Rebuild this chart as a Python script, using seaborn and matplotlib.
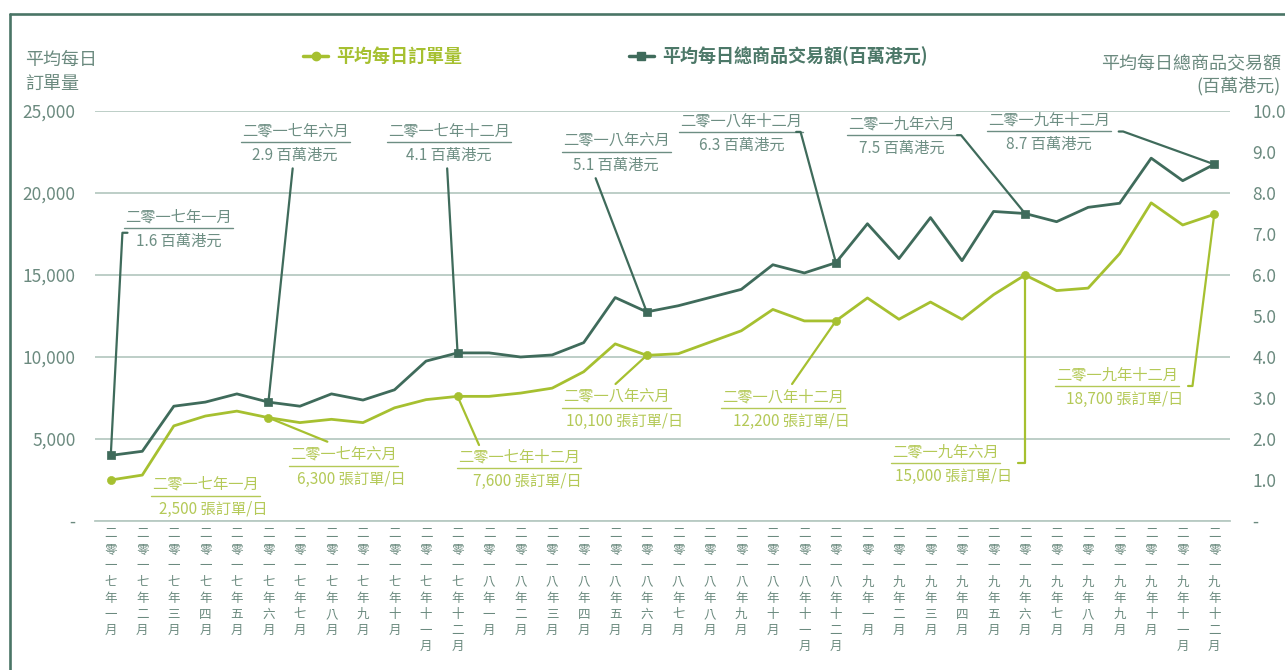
import numpy as np
import pandas as pd
import matplotlib
matplotlib.use("Agg")
import matplotlib.pyplot as plt
from matplotlib.lines import Line2D
import seaborn as sns

# === data ===
years = ["一七", "一八", "一九"]
month_names = ["一", "二", "三", "四", "五", "六", "七", "八", "九", "十", "十一", "十二"]
months = [f"二零{y}年{m}月" for y in years for m in month_names]

# average daily orders (left axis)
orders = [2500, 2800, 5800, 6400, 6700, 6300, 6000, 6200, 6000, 6900, 7400, 7600,
          7600, 7800, 8100, 9100, 10800, 10100, 10200, 10900, 11600, 12900, 12200, 12200,
          13600, 12300, 13350, 12300, 13800, 15000, 14050, 14200, 16300, 19400, 18050, 18700]
# average daily GMV, HK$ million (right axis)
gmv = [1.6, 1.7, 2.8, 2.9, 3.1, 2.9, 2.8, 3.1, 2.95, 3.2, 3.9, 4.1,
       4.1, 4.0, 4.05, 4.35, 5.45, 5.1, 5.25, 5.45, 5.65, 6.25, 6.05, 6.3,
       7.25, 6.4, 7.4, 6.35, 7.55, 7.5, 7.3, 7.65, 7.75, 8.85, 8.3, 8.7]
highlight = [0, 5, 11, 17, 23, 29, 35]

left_ticks = [0, 5000, 10000, 15000, 20000, 25000]
left_labels = ["-", "5,000", "10,000", "15,000", "20,000", "25,000"]
right_ticks = list(range(0, 11))
right_labels = ["-"] + [f"{v:.1f}" for v in range(1, 11)]

df = pd.DataFrame({"idx": np.arange(len(months)), "orders": orders, "gmv": gmv})
hl = df.iloc[highlight]

LIGHT = "#a6c030"
LIGHT_TXT = "#b4c957"
DARK = "#3f6b5b"
DARK_TXT = "#6d8e83"
GRID = "#b8cac3"
TICK = "#6b8a7f"
FRAME = "#4a7566"

sns.set_style("white")
plt.rcParams["font.family"] = ["Noto Sans CJK TC", "DejaVu Sans"]

W, H = 1285, 670
fig = plt.figure(figsize=(W / 100, H / 100), dpi=100)
ax = fig.add_axes([95 / W, 1 - 521 / H, (1230 - 95) / W, (521 - 111) / H])
ax2 = ax.twinx()

# === lines ===
sns.lineplot(data=df, x="idx", y="orders", ax=ax, color=LIGHT, linewidth=2.0, legend=False)
sns.scatterplot(data=hl, x="idx", y="orders", ax=ax, color=LIGHT, edgecolor=LIGHT,
                s=34, marker="o", zorder=4, legend=False)
sns.lineplot(data=df, x="idx", y="gmv", ax=ax2, color=DARK, linewidth=2.0, legend=False)
sns.scatterplot(data=hl, x="idx", y="gmv", ax=ax2, color=DARK, edgecolor=DARK,
                s=40, marker="s", zorder=4, legend=False)

ax.set_xlim(-0.5, len(months) - 0.5)
ax.set_ylim(0, 25000)
ax2.set_ylim(0, 10)
for a in (ax, ax2):
    a.set_xlabel("")
    a.set_ylabel("")
    for s in a.spines.values():
        s.set_visible(False)
ax.spines["bottom"].set_visible(True)
ax.spines["bottom"].set_color(GRID)
ax.spines["bottom"].set_linewidth(1.3)

ax.set_yticks(left_ticks)
ax.set_yticklabels(left_labels)
ax.tick_params(axis="y", length=0, pad=14, labelsize=12.5, labelcolor=TICK)
ax2.set_yticks(right_ticks)
ax2.set_yticklabels(right_labels)
ax2.tick_params(axis="y", length=0, pad=16, labelsize=12.5, labelcolor=TICK)
ax.grid(axis="y", color=GRID, linewidth=1.3)
ax.set_axisbelow(True)

# x ticks at category boundaries, labels written vertically
ax.set_xticks(np.arange(len(months)))
ax.set_xticklabels([""] * len(months))
ax.tick_params(axis="x", which="major", length=0)
ax.set_xticks(np.arange(len(months) + 1) - 0.5, minor=True)
ax.tick_params(axis="x", which="minor", length=4.5, width=1.3, color=GRID, direction="out")
for i, lab in enumerate(months):
    for j, ch in enumerate(lab):
        ax.annotate(ch, xy=(i, 0), xycoords=("data", "axes fraction"),
                    xytext=(0, -9 - j * 11.66), textcoords="offset points",
                    ha="center", va="center", fontsize=9, color=TICK, annotation_clip=False)

# === callouts ===
renderer = fig.canvas.get_renderer()


def callout(a, cx, uy, date, value, color, txt_color, leader, dx=0):
    t = a.annotate(date, xy=(cx, uy), xytext=(0, 2), textcoords="offset points",
                   ha="center", va="bottom", fontsize=11, color=txt_color)
    a.annotate(value, xy=(cx, uy), xytext=(dx, -3.5), textcoords="offset points",
               ha="center", va="top", fontsize=11, color=txt_color)
    bb = t.get_window_extent(renderer)
    inv = a.transData.inverted()
    x0 = inv.transform((bb.x0 - 1, 0))[0]
    x1 = inv.transform((bb.x1 + 1, 0))[0]
    a.plot([x0, x1], [uy, uy], color=txt_color, linewidth=1.0)
    if leader:
        xs, ys = zip(*leader)
        a.plot(xs, ys, color=color, linewidth=1.6, zorder=3)


gmv_spots = {
    0: (2.16, 7.15, [(0, gmv[0]), (0.37, 7.03), (0.53, 7.03)]),
    5: (5.85, 9.24, [(5, gmv[5]), (5.77, 8.60)]),
    11: (10.73, 9.24, [(11, gmv[11]), (10.67, 8.60)]),
    17: (16.03, 8.99, [(17, gmv[17]), (15.38, 8.36)]),
    23: (20.00, 9.49, [(23, gmv[23]), (21.88, 9.49), (21.74, 9.49)]),
    29: (25.08, 9.41, [(29, gmv[29]), (26.97, 9.41), (26.84, 9.41)]),
    35: (29.76, 9.51, [(35, gmv[35]), (32.11, 9.50), (31.97, 9.50)]),
}
for i, (cx, uy, leader) in gmv_spots.items():
    callout(ax2, cx, uy, months[i], f"{gmv[i]:.1f} 百萬港元", DARK, DARK_TXT, leader)

order_spots = {
    0: (3.01, 1543, None),
    5: (7.39, 3372, [(5, orders[5]), (6.87, 4835)]),
    11: (12.96, 3213, [(11, orders[11]), (11.68, 4634)]),
    17: (16.04, 6872, [(17, orders[17]), (16.01, 8354)]),
    23: (21.32, 6872, [(23, orders[23]), (21.61, 8354)]),
    29: (26.47, 3518, [(29, orders[29]), (29, 3518), (28.79, 3518)]),
    35: (31.91, 8232, [(35, orders[35]), (34.31, 8232), (34.17, 8232)]),
}
for i, (cx, uy, leader) in order_spots.items():
    callout(ax, cx, uy, months[i], f"{orders[i]:,} 張訂單/日", LIGHT, LIGHT_TXT, leader, dx=5.8)

# === axis titles and legend ===
fig.text(25 / W, 1 - 51 / H, "平均每日\n訂單量", ha="left", va="top", fontsize=13,
         color=TICK, linespacing=1.45)
fig.text(1281 / W, 1 - 55 / H, "平均每日總商品交易額\n(百萬港元)", ha="right", va="top",
         fontsize=13, color=TICK, linespacing=1.25, multialignment="right")

handles = [
    Line2D([], [], color=LIGHT, lw=2.5, marker="o", markersize=6),
    Line2D([], [], color=DARK, lw=2.5, marker="s", markersize=6),
]
leg = fig.legend(handles, ["平均每日訂單量", "平均每日總商品交易額(百萬港元)"],
                 loc="center left", bbox_to_anchor=(303 / W, 1 - 56 / H), ncol=2,
                 frameon=False, handlelength=1.4, handletextpad=0.45, columnspacing=9.2,
                 borderpad=0, borderaxespad=0, prop={"size": 13, "weight": "bold"})
for txt, c in zip(leg.get_texts(), [LIGHT, "#4c7868"]):
    txt.set_color(c)

# frame on top and left
fig.add_artist(Line2D([9.5 / W, 9.5 / W], [0, 1 - 14 / H], transform=fig.transFigure,
                      color=FRAME, linewidth=1.9))
fig.add_artist(Line2D([9.5 / W, 1], [1 - 14 / H, 1 - 14 / H], transform=fig.transFigure,
                      color=FRAME, linewidth=1.9))

fig.savefig("out.png", dpi=100)
